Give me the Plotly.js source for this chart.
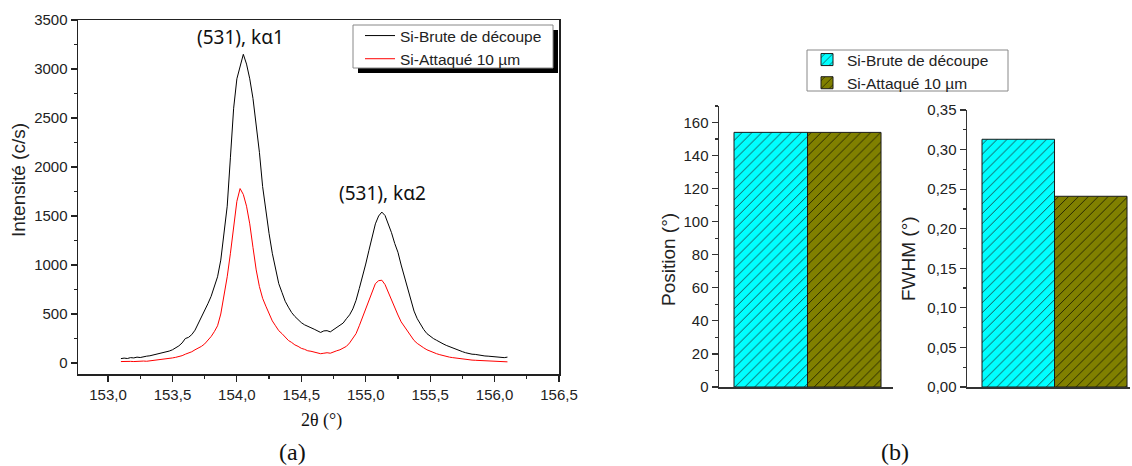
<!DOCTYPE html>
<html>
<head>
<meta charset="utf-8">
<script src="https://cdn.plot.ly/plotly-3.0.1.min.js"></script>
<style>
html,body{margin:0;padding:0;background:#fff;}
#chart{width:1132px;height:466px;}
</style>
</head>
<body>
<div id="chart"></div>
<script>
// ---- Data: panel (a) XRD scan ----
const twoTheta = [
153.100,153.125,153.150,153.175,153.200,153.225,153.250,153.275,153.300,153.325,
153.350,153.375,153.400,153.425,153.450,153.475,153.500,153.525,153.550,153.575,
153.600,153.625,153.650,153.675,153.700,153.725,153.750,153.775,153.800,153.825,
153.850,153.875,153.900,153.925,153.950,153.975,154.000,154.025,154.050,154.075,
154.100,154.125,154.150,154.175,154.200,154.225,154.250,154.275,154.300,154.325,
154.350,154.375,154.400,154.425,154.450,154.475,154.500,154.525,154.550,154.575,
154.600,154.625,154.650,154.675,154.700,154.725,154.750,154.775,154.800,154.825,
154.850,154.875,154.900,154.925,154.950,154.975,155.000,155.025,155.050,155.075,
155.100,155.125,155.150,155.175,155.200,155.225,155.250,155.275,155.300,155.325,
155.350,155.375,155.400,155.425,155.450,155.475,155.500,155.525,155.550,155.575,
155.600,155.625,155.650,155.675,155.700,155.725,155.750,155.775,155.800,155.825,
155.850,155.875,155.900,155.925,155.950,155.975,156.000,156.025,156.050,156.075,
156.100];

const intensityBrute = [
45,50,46,55,52,60,56,66,70,74,
82,88,95,102,110,122,135,152,175,205,
250,262,290,335,400,462,530,605,680,785,
880,1050,1300,1600,2100,2600,2900,3030,3150,3050,
2900,2700,2450,2150,1800,1550,1320,1120,950,810,
720,630,570,515,475,440,412,390,372,360,
345,332,312,328,330,318,340,358,382,408,
452,492,552,640,760,880,1010,1150,1300,1420,
1500,1540,1505,1420,1330,1220,1130,1000,880,760,
640,530,452,390,342,300,272,250,232,210,
196,180,166,150,142,125,116,105,96,90,
88,80,78,72,70,66,60,63,58,55,
60];

const intensityAttaque = [
15,18,14,17,15,18,16,20,18,22,
25,28,30,35,38,45,52,58,65,75,
90,100,115,135,150,170,195,230,270,320,
380,500,680,880,1120,1400,1650,1780,1720,1600,
1420,1180,950,780,660,580,500,430,380,330,
300,260,230,210,185,170,150,140,125,120,
110,105,95,100,105,100,115,125,135,150,
170,205,250,300,380,470,560,650,740,810,
840,845,800,720,640,570,490,420,370,320,
270,230,200,175,155,135,120,105,95,85,
75,68,60,55,50,45,40,36,33,30,
28,26,24,22,20,18,16,15,14,13,
12];

const seriesNames = ['Si-Brute de découpe', 'Si-Attaqué 10 µm'];
const peakLabels = ['(531), kα1', '(531), kα2'];
const peakLabelPos = [[154.03, 3330], [155.13, 1730]];

// ---- Data: panel (b) ----
const positionVals = [154.05, 154.03];
const fwhmVals = [0.313, 0.241];

const W = 1132, H = 466;
const px = v => v / W;
const py = v => 1 - v / H;

const barFill = [
  {bg: '#00FFFF', fg: '#16504f'},
  {bg: '#808000', fg: '#262600'}
];

const traces = [];
traces.push({
  type: 'scatter', mode: 'lines', x: twoTheta, y: intensityBrute,
  name: seriesNames[0], line: {color: '#000000', width: 1},
  xaxis: 'x', yaxis: 'y', legend: 'legend2'
});
traces.push({
  type: 'scatter', mode: 'lines', x: twoTheta, y: intensityAttaque,
  name: seriesNames[1], line: {color: '#ff0000', width: 1},
  xaxis: 'x', yaxis: 'y', legend: 'legend2'
});
for (let i = 0; i < 2; i++) {
  const marker = {
    color: barFill[i].bg,
    line: {color: '#1a1a1a', width: 1},
    pattern: {shape: '/', bgcolor: barFill[i].bg, fgcolor: barFill[i].fg, size: 7, solidity: 0.14, fillmode: 'replace'}
  };
  traces.push({
    type: 'bar', x: [i], y: [positionVals[i]], width: [1],
    name: seriesNames[i], marker: marker, xaxis: 'x2', yaxis: 'y2',
    legend: 'legend', legendgroup: 'g' + i, showlegend: true
  });
  traces.push({
    type: 'bar', x: [i], y: [fwhmVals[i]], width: [1],
    name: seriesNames[i], marker: marker, xaxis: 'x3', yaxis: 'y3',
    legend: 'legend', legendgroup: 'g' + i, showlegend: false
  });
}

const tickFont = {family: 'Liberation Sans, Arial, sans-serif', size: 15, color: '#222'};
const legFont = {family: 'Liberation Sans, Arial, sans-serif', size: 15.5, color: '#222'};
const axLine = '#222';

const layout = {
  width: W, height: H,
  margin: {l: 0, r: 0, t: 0, b: 0},
  paper_bgcolor: '#ffffff', plot_bgcolor: '#ffffff',
  separators: ', ',
  showlegend: true,
  barmode: 'overlay',
  xaxis: {
    domain: [px(78), px(559)], range: [152.767, 156.5], anchor: 'y',
    tick0: 153, dtick: 0.5, tickformat: '.1f', ticks: 'outside', ticklen: 6, tickwidth: 1.2, tickcolor: axLine,
    minor: {dtick: 0.25, ticks: 'outside', ticklen: 3, tickcolor: axLine},
    showline: true, linecolor: axLine, linewidth: 1.5, mirror: true,
    showgrid: false, zeroline: false, tickfont: tickFont
  },
  yaxis: {
    domain: [py(374), py(20)], range: [-112, 3500], anchor: 'x',
    tick0: 0, dtick: 500, ticks: 'outside', ticklen: 6, tickwidth: 1.2, tickcolor: axLine,
    minor: {dtick: 250, ticks: 'outside', ticklen: 3, tickcolor: axLine},
    showline: true, linecolor: axLine, linewidth: 1.5, mirror: true,
    showgrid: false, zeroline: false, tickfont: tickFont
  },
  xaxis2: {
    domain: [px(719), px(893)], range: [-0.704, 1.663], anchor: 'y2',
    showticklabels: false, ticks: '', showline: true, linecolor: '#333', linewidth: 1.5,
    showgrid: false, zeroline: false
  },
  yaxis2: {
    domain: [py(387), py(106)], range: [0, 170], anchor: 'x2',
    tick0: 0, dtick: 20, ticks: 'outside', ticklen: 6, tickwidth: 1.2, tickcolor: '#333',
    minor: {dtick: 10, ticks: 'outside', ticklen: 3, tickcolor: '#333'},
    showline: true, linecolor: '#333', linewidth: 1.5,
    showgrid: false, zeroline: false, tickfont: tickFont
  },
  xaxis3: {
    domain: [px(967), px(1130)], range: [-0.707, 1.541], anchor: 'y3',
    showticklabels: false, ticks: '', showline: true, linecolor: '#333', linewidth: 1.5,
    showgrid: false, zeroline: false
  },
  yaxis3: {
    domain: [py(387), py(110)], range: [0, 0.35], anchor: 'x3',
    tick0: 0, dtick: 0.05, tickformat: '.2f', ticks: 'outside', ticklen: 6, tickwidth: 1.2, tickcolor: '#333',
    minor: {dtick: 0.025, ticks: 'outside', ticklen: 3, tickcolor: '#333'},
    showline: true, linecolor: '#333', linewidth: 1.5,
    showgrid: false, zeroline: false, tickfont: tickFont
  },
  legend: {
    x: px(807), y: py(43), xanchor: 'left', yanchor: 'top',
    bgcolor: 'rgba(0,0,0,0)', borderwidth: 0,
    font: legFont, tracegroupgap: 0, traceorder: 'normal'
  },
  legend2: {
    x: px(360), y: py(19), xanchor: 'left', yanchor: 'top',
    bgcolor: 'rgba(0,0,0,0)', borderwidth: 0,
    font: legFont, tracegroupgap: 0, traceorder: 'normal'
  },
  shapes: [
    {type: 'rect', xref: 'paper', yref: 'paper', x0: px(358), x1: px(558), y0: py(73), y1: py(30),
     fillcolor: '#000', line: {width: 0}, layer: 'above'},
    {type: 'rect', xref: 'paper', yref: 'paper', x0: px(353), x1: px(553), y0: py(68), y1: py(25),
     fillcolor: '#fff', line: {color: '#888', width: 1}, layer: 'above'},
    {type: 'rect', xref: 'paper', yref: 'paper', x0: px(807), x1: px(1008), y0: py(91), y1: py(50),
     fillcolor: 'rgba(255,255,255,0)', line: {color: '#888', width: 1}, layer: 'above'}
  ],
  annotations: [
    {text: peakLabels[0], x: peakLabelPos[0][0], y: peakLabelPos[0][1], xref: 'x', yref: 'y',
     showarrow: false, xanchor: 'center', yanchor: 'middle',
     font: {family: 'Noto Sans, sans-serif', size: 19, color: '#111'}},
    {text: peakLabels[1], x: peakLabelPos[1][0], y: peakLabelPos[1][1], xref: 'x', yref: 'y',
     showarrow: false, xanchor: 'center', yanchor: 'middle',
     font: {family: 'Noto Sans, sans-serif', size: 19, color: '#111'}},
    {text: 'Intensité (c/s)', x: px(18), y: py(180), xref: 'paper', yref: 'paper', textangle: -90,
     showarrow: false, xanchor: 'center', yanchor: 'middle',
     font: {family: 'Liberation Sans, Arial, sans-serif', size: 19, color: '#222'}},
    {text: '2θ (°)', x: px(321), y: py(420), xref: 'paper', yref: 'paper',
     showarrow: false, xanchor: 'center', yanchor: 'middle',
     font: {family: 'Liberation Serif, Times New Roman, serif', size: 18, color: '#111'}},
    {text: '(a)', x: px(292), y: py(452), xref: 'paper', yref: 'paper',
     showarrow: false, xanchor: 'center', yanchor: 'middle',
     font: {family: 'Liberation Serif, Times New Roman, serif', size: 24, color: '#111'}},
    {text: 'Position (°)', x: px(668), y: py(260), xref: 'paper', yref: 'paper', textangle: -90,
     showarrow: false, xanchor: 'center', yanchor: 'middle',
     font: {family: 'Liberation Sans, Arial, sans-serif', size: 19, color: '#222'}},
    {text: 'FWHM (°)', x: px(908), y: py(259), xref: 'paper', yref: 'paper', textangle: -90,
     showarrow: false, xanchor: 'center', yanchor: 'middle',
     font: {family: 'Liberation Sans, Arial, sans-serif', size: 19, color: '#222'}},
    {text: '(b)', x: px(895), y: py(452), xref: 'paper', yref: 'paper',
     showarrow: false, xanchor: 'center', yanchor: 'middle',
     font: {family: 'Liberation Serif, Times New Roman, serif', size: 24, color: '#111'}}
  ]
};

Plotly.newPlot('chart', traces, layout, {displayModeBar: false, staticPlot: true});
</script>
</body>
</html>
